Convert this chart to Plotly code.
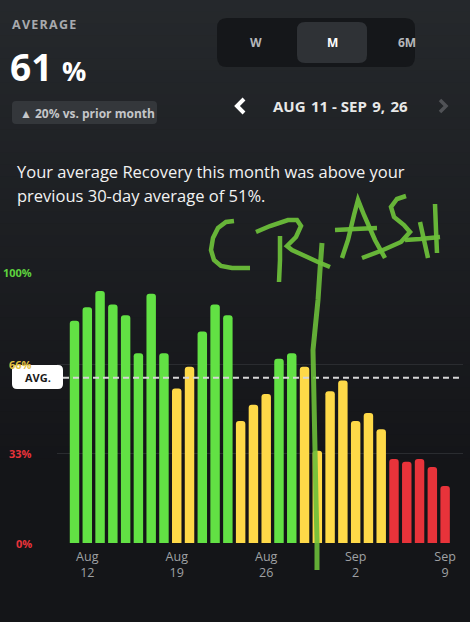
import plotly.graph_objects as go
import pandas as pd

# ---------------- data ----------------
dates = ["2026-08-11", "2026-08-12", "2026-08-13", "2026-08-14", "2026-08-15",
         "2026-08-16", "2026-08-17", "2026-08-18", "2026-08-19", "2026-08-20",
         "2026-08-21", "2026-08-22", "2026-08-23", "2026-08-24", "2026-08-25",
         "2026-08-26", "2026-08-27", "2026-08-28", "2026-08-29", "2026-08-30",
         "2026-08-31", "2026-09-01", "2026-09-02", "2026-09-03", "2026-09-04",
         "2026-09-05", "2026-09-06", "2026-09-07", "2026-09-08", "2026-09-09"]
recovery = [82, 87, 93, 88, 84, 70, 92, 70, 57, 65,
            78, 88, 84, 45, 51, 55, 68, 70, 65, 34,
            56, 60, 45, 48, 42, 31, 30, 31, 28, 21]
average = 61
tick_dates = ["2026-08-12", "2026-08-19", "2026-08-26", "2026-09-02", "2026-09-09"]
tick_text = ["Aug<br>12", "Aug<br>19", "Aug<br>26", "Sep<br>2", "Sep<br>9"]
y_ticks = [0, 33, 66, 100]
y_tick_text = ["0%", "33%", "66%", "100%"]

GREEN, YELLOW, RED = "#62e144", "#fed948", "#e8333a"
def band_color(v):
    return GREEN if v >= 67 else (YELLOW if v >= 34 else RED)
y_tick_colors = [RED, RED, "#e2c23f", "#5ed23e"]

# ---------------- geometry helpers ----------------
W, H = 470, 622
L, R, T, B = 57, 7, 272, 79
PW, PH = W - L - R, H - T - B
Y0 = H - B

def pp(px, py):
    return (px - L) / PW, (Y0 - py) / PH

def poly(points):
    s = ""
    for i, (x, y) in enumerate(points):
        a, b = pp(x, y)
        s += ("M" if i == 0 else "L") + f"{a:.5f},{b:.5f} "
    return s

def rrect(x0, y0, x1, y1, r):
    def p(x, y):
        a, b = pp(x, y)
        return f"{a:.5f},{b:.5f}"
    return (f"M{p(x0+r,y0)} L{p(x1-r,y0)} Q{p(x1,y0)} {p(x1,y0+r)} "
            f"L{p(x1,y1-r)} Q{p(x1,y1)} {p(x1-r,y1)} L{p(x0+r,y1)} "
            f"Q{p(x0,y1)} {p(x0,y1-r)} L{p(x0,y0+r)} Q{p(x0,y0)} {p(x0+r,y0)} Z")

FONT = "Open Sans"
shapes = []
annotations = []

# background gradient
top_rgb = (37, 40, 44)
bot_rgb = (20, 21, 24)
n = 40
grad_end = 470
for i in range(n):
    y0 = grad_end * i / n
    y1 = grad_end * (i + 1) / n + 1
    t = i / (n - 1)
    c = tuple(int(round(top_rgb[k] + (bot_rgb[k] - top_rgb[k]) * t)) for k in range(3))
    a0, b0 = pp(0, y0)
    a1, b1 = pp(W, y1)
    shapes.append(dict(type="rect", xref="paper", yref="paper", x0=a0, x1=a1, y0=b1, y1=b0,
                       fillcolor=f"rgb{c}", line=dict(width=0), layer="below"))

def ann(px, py, text, size, color, xanchor="left", bold=True, family=FONT, weight=None, **kw):
    a, b = pp(px, py)
    f = dict(family=family, size=size, color=color)
    if weight:
        f["weight"] = weight
    annotations.append(dict(xref="paper", yref="paper", x=a, y=b, text=(f"<b>{text}</b>" if bold else text),
                            showarrow=False, xanchor=xanchor, yanchor="middle", font=f, **kw))

# header
ann(10, 25, "A V E R A G E".replace(" ", "&#8202;"), 12.5, "#a8aaae")
ann(8, 66, "61 <span style='font-size:27px'>%</span>", 37, "#ffffff")
shapes.append(dict(type="path", xref="paper", yref="paper", path=rrect(12, 101, 157, 124, 4),
                   fillcolor="#34373b", line=dict(width=0)))
ann(18, 113, "▲ 20% vs. prior month", 12, "#c4c6c9")

# toggle
shapes.append(dict(type="path", xref="paper", yref="paper", path=rrect(217, 18, 415, 67, 10),
                   fillcolor="#15171a", line=dict(width=0)))
shapes.append(dict(type="path", xref="paper", yref="paper", path=rrect(297, 22, 367, 63, 8),
                   fillcolor="#2f3236", line=dict(width=0)))
ann(256, 42, "W", 12, "#b5b7ba", xanchor="center")
ann(332, 42, "M", 12, "#ffffff", xanchor="center")
ann(407, 42, "6M", 12, "#b5b7ba", xanchor="center")

# date navigator
shapes.append(dict(type="path", xref="paper", yref="paper", path=poly([(244, 99), (237, 106), (244, 113)]),
                   line=dict(color="#ffffff", width=4)))
ann(340, 106, "AUG&#8202; 11 - SEP&#8202; 9,&#8202; 26", 15, "#e8e8e8", xanchor="center")
shapes.append(dict(type="path", xref="paper", yref="paper", path=poly([(440, 100), (446, 106), (440, 112)]),
                   line=dict(color="#505256", width=3.5)))

# description
ann(15, 171, "Your average Recovery this month was above your", 16.5, "#f2f2f2", bold=False, weight=500)
ann(15, 195, "previous 30-day average of 51%.", 16.5, "#f2f2f2", bold=False, weight=500)

# y tick labels
for v, txt, col in zip(y_ticks, y_tick_text, y_tick_colors):
    annotations.append(dict(xref="paper", yref="y", x=pp(34, 0)[0], y=v, text=f"<b>{txt}</b>",
                            showarrow=False, xanchor="right", yanchor="middle",
                            font=dict(family=FONT, size=11, color=col)))

# average dashed line and label
shapes.append(dict(type="line", xref="paper", yref="y", x0=pp(63, 0)[0], x1=1, y0=average, y1=average,
                   line=dict(color="#d6d6d6", width=2, dash="6px,4px")))
shapes.append(dict(type="path", xref="paper", yref="paper", path=rrect(12, 365, 63, 389, 5),
                   fillcolor="#ffffff", line=dict(width=0)))
ann(37.5, 377, "AVG.", 11, "#1a1a1a", xanchor="center")

# hand-drawn "CRASH" annotation
HAND = dict(color="rgba(108,190,58,0.95)", width=4.5)
strokes = [
    [(234, 221), (226, 222), (218, 228), (213, 238), (211, 250), (214, 260), (221, 266), (232, 268), (250, 268)],
    [(256, 232), (270, 226), (288, 220), (297, 220), (301, 226), (296, 237), (287, 246), (292, 250),
     (305, 256), (318, 262), (330, 267)],
    [(280, 236), (280, 260), (279, 282)],
    [(342, 258), (348, 240), (354, 215), (358, 200), (364, 215), (375, 240), (385, 258)],
    [(335, 230), (355, 229), (377, 228)],
    [(406, 196), (397, 199), (391, 207), (394, 217), (404, 225), (410, 232), (401, 242), (383, 250), (362, 258)],
    [(420, 222), (424, 240), (428, 258)],
    [(435, 204), (436, 230), (437, 253)],
    [(405, 240), (420, 239), (440, 237)],
]
for s in strokes:
    shapes.append(dict(type="path", xref="paper", yref="paper", path=poly(s), line=HAND, layer="above"))
shapes.append(dict(type="path", xref="paper", yref="paper",
                   path=poly([(322, 243), (320, 270), (318, 300), (315, 330), (313, 350), (314, 400),
                              (315, 450), (316, 500), (317, 540), (317, 570)]),
                   line=dict(color="rgba(108,190,58,0.9)", width=5), layer="above"))

# ---------------- figure ----------------
x_dates = pd.to_datetime(dates)
day_ms = 86400000
fig = go.Figure(go.Bar(
    x=x_dates, y=recovery,
    marker=dict(color=[band_color(v) for v in recovery], line=dict(width=0)),
    width=0.74 * day_ms, hoverinfo="skip",
))

x_start = x_dates[0] - pd.Timedelta(days=1.37)
x_end = x_dates[-1] + pd.Timedelta(days=1.4)

fig.update_layout(
    width=W, height=H,
    margin=dict(l=L, r=R, t=T, b=B, pad=0),
    paper_bgcolor="#141518", plot_bgcolor="rgba(0,0,0,0)",
    showlegend=False, barcornerradius=3,
    font=dict(family=FONT),
    xaxis=dict(type="date", range=[x_start, x_end], tickvals=pd.to_datetime(tick_dates),
               ticktext=tick_text, showgrid=False, zeroline=False, showline=False, ticks="",
               ticklabelstandoff=4,
               tickfont=dict(family=FONT, size=12.5, color="#9fa1a4"), fixedrange=True),
    yaxis=dict(range=[0, 100], tickvals=y_ticks, showticklabels=False, showgrid=True,
               gridcolor="#2a2c30", gridwidth=1, zeroline=False, showline=False, ticks="",
               fixedrange=True),
    shapes=shapes, annotations=annotations,
)

fig.write_html("out.html", config=dict(displayModeBar=False),
               post_script="document.body.style.margin='0px';document.body.style.background='#141518';")
